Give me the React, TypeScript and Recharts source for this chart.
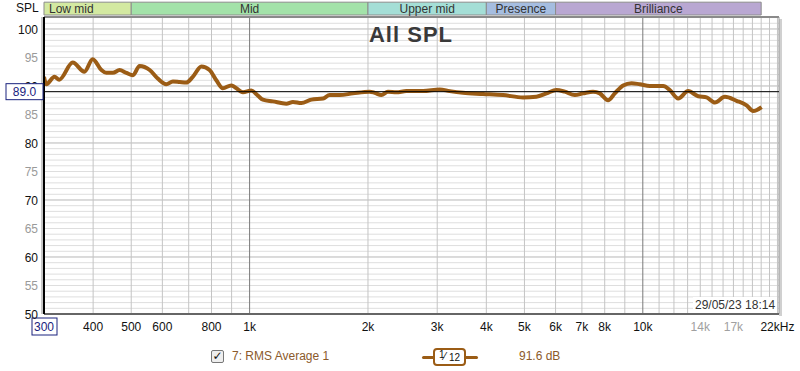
import React from "react";
import { LineChart, Line, XAxis, YAxis, ReferenceLine, ReferenceArea } from "recharts";

const freqs = [
  300, 304, 319, 328, 355, 380, 399, 420, 432, 449, 467, 486, 505, 525, 557, 584, 614, 638, 664, 690,
  717, 754, 791, 823, 855, 898, 962, 1010, 1050, 1081, 1146, 1240, 1289, 1354, 1436, 1537, 1598, 1694,
  1831, 2020, 2080, 2163, 2248, 2362, 2504, 2761, 3044, 3228, 3489, 3924, 4411, 4960, 5364, 5689, 6031,
  6331, 6714, 7048, 7472, 7772, 8159, 8487, 8910, 9359, 9826, 10420, 11270, 11710, 12300, 13040, 13830,
  14530, 15250, 16170, 17320, 18360, 19080, 20050,
];
const spl = [
  91.6, 90.3, 91.6, 91.1, 94.1, 92.5, 94.7, 92.8, 92.3, 92.3, 92.8, 92.3, 91.9, 93.5, 92.8, 91.3, 90.3,
  90.8, 90.7, 90.6, 91.6, 93.4, 92.8, 91.0, 89.6, 90.1, 88.9, 89.2, 88.3, 87.6, 87.3, 86.9, 87.2, 87.0,
  87.6, 87.8, 88.4, 88.4, 88.7, 89.0, 88.8, 88.4, 89.0, 88.9, 89.1, 89.1, 89.4, 89.1, 88.8, 88.6, 88.4,
  88.0, 88.1, 88.7, 89.3, 89.0, 88.4, 88.7, 89.0, 88.7, 87.5, 88.7, 90.1, 90.5, 90.3, 90.0, 90.0, 89.3,
  87.8, 89.1, 88.2, 88.0, 87.1, 88.1, 87.4, 86.6, 85.6, 86.3,
];

const refLevel = 89.0;

const xTicks = [300, 400, 500, 600, 800, 1000, 2000, 3000, 4000, 5000, 6000, 7000, 8000, 10000, 14000, 17000, 22000];
// the reference level goes last so its box is drawn over the "90" label
const yTicks = [50, 55, 60, 65, 70, 75, 80, 85, 90, 95, 100, refLevel];
const xGrid = [
  400, 500, 600, 700, 800, 900, 2000, 3000, 4000, 5000, 6000, 7000, 8000, 9000,
  11000, 12000, 13000, 14000, 15000, 16000, 17000, 18000, 19000, 20000, 21000, 22000,
];
const xGridMajor = [1000, 10000];
const yGrid = Array.from({ length: 52 }, (_, i) => 51 + i);

const bands = [
  { name: "Low mid", from: 300, to: 500, color: "#d3e9a1" },
  { name: "Mid", from: 500, to: 2000, color: "#a3e2a9" },
  { name: "Upper mid", from: 2000, to: 4000, color: "#a4ded6" },
  { name: "Presence", from: 4000, to: 6000, color: "#a5bde0" },
  { name: "Brilliance", from: 6000, to: 20000, color: "#b9a7d2" },
];

const data = freqs.map((f, i) => ({ f, spl: spl[i] }));

const font = "'Liberation Sans', Arial, sans-serif";

const fmtFreq = (v: number) => {
  if (v === 22000) return "22kHz";
  if (v >= 1000) return `${v / 1000}k`;
  return `${v}`;
};

const XTick = (props: any) => {
  const { x, y, payload } = props;
  const v = payload.value;
  const grey = v === 14000 || v === 17000;
  if (v === 300) {
    return (
      <g>
        <rect x={x - 12} y={y + 2} width={25} height={17} fill="#fff" stroke="#1a237e" />
        <text x={x} y={y + 15} textAnchor="middle" fontSize={12} fill="#1a237e" fontFamily={font}>
          300
        </text>
      </g>
    );
  }
  return (
    <text x={x} y={y + 15} textAnchor="middle" fontSize={12} fill={grey ? "#a0a0a0" : "#111"} fontFamily={font}>
      {fmtFreq(v)}
    </text>
  );
};

const YTick = (props: any) => {
  const { x, y, payload } = props;
  const v = payload.value;
  if (v === refLevel) {
    return (
      <g>
        <rect x={x - 32} y={y - 8} width={37} height={16} fill="#fff" stroke="#1a237e" />
        <text x={x - 13.5} y={y + 4.5} textAnchor="middle" fontSize={12} fill="#1a237e" fontFamily={font}>
          {refLevel.toFixed(1)}
        </text>
      </g>
    );
  }
  return (
    <text x={x} y={y + 5} textAnchor="end" fontSize={12} fill={v % 10 === 0 ? "#111" : "#9a9a9a"} fontFamily={font}>
      {v}
    </text>
  );
};

export default function App() {
  return (
    <div style={{ position: "absolute", left: 0, top: 0, width: 800, height: 371, background: "#fff", fontFamily: font }}>
      <div style={{ position: "absolute", left: 779, top: 19, width: 3, height: 297, background: "#d0d0d0" }} />
      <div style={{ position: "absolute", left: 41, top: 17, width: 2, height: 297, background: "#c8c8c8" }} />
      <LineChart width={800} height={371} data={data} margin={{ top: 17, right: 21, left: 0, bottom: 0 }}>
        <XAxis
          dataKey="f"
          type="number"
          scale="log"
          domain={[300, 22200]}
          allowDataOverflow
          ticks={xTicks}
          tick={<XTick />}
          tickLine={false}
          tickSize={0}
          height={57}
          interval={0}
          axisLine={{ stroke: "#666", strokeWidth: 2 }}
        />
        <YAxis
          type="number"
          domain={[50, 102.1]}
          allowDataOverflow
          ticks={yTicks}
          tick={<YTick />}
          tickLine={false}
          tickSize={0}
          tickMargin={6}
          width={44}
          interval={0}
          axisLine={{ stroke: "#000", strokeWidth: 2 }}
        />
        {yGrid.map((v) => (
          <ReferenceLine key={`h${v}`} y={v} stroke={v % 10 === 0 ? "#b8b8b8" : "#dedede"} strokeWidth={1} />
        ))}
        {xGrid.map((v) => (
          <ReferenceLine key={`v${v}`} x={v} stroke="#c4c4c4" strokeWidth={1} />
        ))}
        {xGridMajor.map((v) => (
          <ReferenceLine key={`vm${v}`} x={v} stroke="#7a7a7a" strokeWidth={1} />
        ))}
        <ReferenceLine y={102.1} stroke="#8a8a8a" strokeWidth={2} />
        <ReferenceLine x={22200} stroke="#9a9a9a" strokeWidth={1} />
        {bands.map((b) => (
          <ReferenceArea
            key={b.name}
            x1={b.from}
            x2={b.to}
            y1={102.45}
            y2={104.7}
            ifOverflow="visible"
            fill={b.color}
            fillOpacity={1}
            stroke="#8c8c8c"
            strokeWidth={1}
            label={{
              value: b.name,
              position: b.name === "Low mid" ? "insideLeft" : "center",
              fill: "#333",
              fontSize: 12,
              fontFamily: font,
            }}
          />
        ))}
        <Line
          type="monotone"
          dataKey="spl"
          stroke="#9b5c15"
          strokeWidth={4}
          dot={false}
          isAnimationActive={false}
        />
        <ReferenceLine y={refLevel} stroke="#000" strokeWidth={1} />
      </LineChart>

      <div style={{ position: "absolute", left: 16, top: 1, fontSize: 12, color: "#111" }}>SPL</div>
      <div
        style={{
          position: "absolute",
          left: 0,
          top: 24,
          width: 822,
          textAlign: "center",
          fontSize: 22,
          lineHeight: "22px",
          letterSpacing: 1,
          fontWeight: "bold",
          color: "#3a3a3a",
        }}
      >
        All SPL
      </div>
      <div
        style={{
          position: "absolute",
          left: 693,
          top: 297,
          padding: "1px 2px",
          background: "#fff",
          fontSize: 12,
          color: "#333",
          lineHeight: "14px",
        }}
      >
        29/05/23 18:14
      </div>

      <div
        style={{
          position: "absolute",
          left: 211,
          top: 350,
          width: 11,
          height: 11,
          border: "1px solid #777",
          borderRadius: 2,
          background: "#eee",
          fontSize: 12,
          lineHeight: "11px",
          textAlign: "center",
          color: "#111",
          fontFamily: "'DejaVu Sans', sans-serif",
          fontWeight: "bold",
        }}
      >
        ✓
      </div>
      <div style={{ position: "absolute", left: 232, top: 349, fontSize: 12, color: "#8b5a2b" }}>7: RMS Average 1</div>

      <div style={{ position: "absolute", left: 422, top: 356, width: 56, height: 3, background: "#9b5c15", borderRadius: 2 }} />
      <div
        style={{
          position: "absolute",
          left: 433,
          top: 348,
          width: 33,
          height: 18,
          border: "2px solid #9b5c15",
          borderRadius: 4,
          background: "#fff",
          boxSizing: "border-box",
        }}
      >
        <span style={{ position: "absolute", left: 4, top: -1, fontSize: 10, color: "#111" }}>1</span>
        <span style={{ position: "absolute", left: 9, top: 0, fontSize: 11, color: "#111" }}>⁄</span>
        <span style={{ position: "absolute", left: 14, top: 2, fontSize: 10, color: "#111" }}>12</span>
      </div>
      <div style={{ position: "absolute", left: 519, top: 349, fontSize: 12, color: "#8b5a2b" }}>91.6 dB</div>
    </div>
  );
}
